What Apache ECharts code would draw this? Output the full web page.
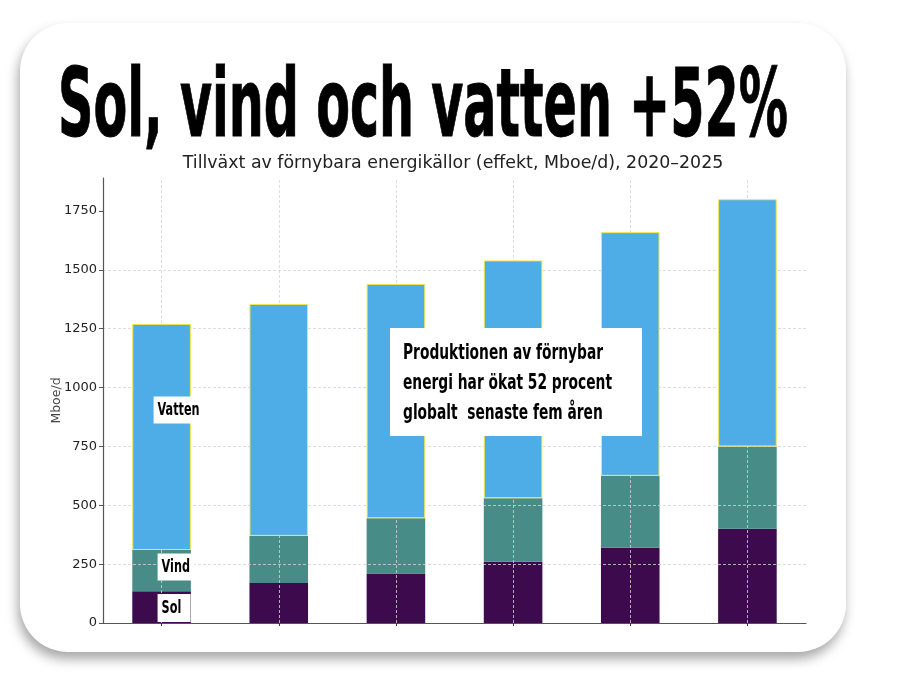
<!DOCTYPE html>
<html>
<head>
<meta charset="utf-8">
<script src="https://cdn.jsdelivr.net/npm/echarts@6/dist/echarts.min.js"></script>
<style>
  html, body { margin: 0; padding: 0; background: #ffffff; }
  #card { position: absolute; left: 20px; top: 23px; width: 826px; height: 629px;
          border-radius: 48px; background: #ffffff;
          box-shadow: -2px 7px 12px rgba(0,0,0,0.35); }
  #chart { position: absolute; left: 0; top: 0; width: 912px; height: 690px; }
</style>
</head>
<body>
<div id="card"></div>
<div id="chart"></div>
<script>
// ---- data ----
const categories = ['2020', '2021', '2022', '2023', '2024', '2025'];
const sol    = [135, 170, 210, 260, 320, 400];
const vind   = [175, 200, 235, 270, 305, 350];
const vatten = [960, 985, 995, 1010, 1035, 1050];
const yTicks = [0, 250, 500, 750, 1000, 1250, 1500, 1750];
const titleText = 'Sol, vind och vatten +52%';
const subtitleText = 'Tillväxt av förnybara energikällor (effekt, Mboe/d), 2020–2025';
const yAxisName = 'Mboe/d';
const noteLines = ['Produktionen av förnybar', 'energi har ökat 52 procent', 'globalt  senaste fem åren'];
const seriesNames = ['Sol', 'Vind', 'Vatten'];

const COND = "'Liberation Sans Narrow','DejaVu Sans Condensed','Liberation Sans',sans-serif";
const measureCtx = document.createElement('canvas').getContext('2d');
function measure(text, size) {
  measureCtx.font = 'bold ' + size + 'px ' + COND;
  return measureCtx.measureText(text).width;
}
function condText(text, x, y, size, scale, extra) {
  return Object.assign({
    type: 'text', x: x, y: y, scaleX: scale, scaleY: 1, z: 100,
    style: { text: text, font: 'bold ' + size + 'px ' + COND, fill: '#000',
             align: 'left', verticalAlign: 'middle' }
  }, extra || {});
}

const chart = echarts.init(document.getElementById('chart'), null, { renderer: 'canvas' });

const option = {
  backgroundColor: 'transparent',
  animation: false,
  grid: { left: 103, right: 106, top: 178, bottom: 67 },
  xAxis: {
    type: 'category', data: categories, boundaryGap: true,
    axisLine: { show: true, lineStyle: { color: '#555', width: 1.2 } },
    axisTick: { show: true, alignWithLabel: true, length: 3, lineStyle: { color: '#333' } },
    axisLabel: { show: false },
    splitLine: { show: false }
  },
  yAxis: {
    type: 'value', min: 0, max: 1890, interval: 250, z: 3,
    name: yAxisName, nameLocation: 'middle', nameGap: 40, nameRotate: 90, nameMoveOverlap: false,
    nameTextStyle: { fontFamily: 'DejaVu Sans', fontSize: 12.5, color: '#444' },
    axisLine: { show: true, lineStyle: { color: '#555', width: 1.2 } },
    axisTick: { show: true, length: 4, customValues: yTicks, lineStyle: { color: '#555' } },
    axisLabel: { fontFamily: 'DejaVu Sans', fontSize: 13, color: '#222', margin: 6,
                 customValues: yTicks, formatter: v => String(v) },
    splitLine: { show: true, showMaxLine: false, showMinLine: false,
                 lineStyle: { color: '#d4d4d4', type: [3, 2], width: 0.8 } }
  },
  series: [
    { name: seriesNames[0], type: 'bar', stack: 'total', data: sol, barWidth: '50%', z: 2,
      itemStyle: { color: '#3d0a4e' } },
    { name: seriesNames[1], type: 'bar', stack: 'total', data: vind, barWidth: '50%', z: 2,
      itemStyle: { color: '#478c87' } },
    { name: seriesNames[2], type: 'bar', stack: 'total', data: vatten, barWidth: '50%', z: 5,
      itemStyle: { color: '#4eace7', borderColor: '#f3e64a', borderWidth: 1 } },
    { name: 'grid', type: 'line', data: [], z: 3, silent: true,
      markLine: {
        silent: true, symbol: 'none', label: { show: false },
        lineStyle: { color: '#d4d4d4', type: [3, 2], width: 0.8 },
        data: categories.map(c => ({ xAxis: c }))
      } }
  ]
};
chart.setOption(option);

// ---- annotations (text as real text) ----
const titleSize = 95;
const titleScale = 730 / measure(titleText, titleSize);
const noteSize = 21;
const noteScale = 209 / measure(noteLines[1], noteSize);
const lblSize = 18;
const lblScale = 42 / measure('Vatten', lblSize);

// Bar-label anchors from data coordinates (first category)
const vattenPt = chart.convertToPixel({ gridIndex: 0 }, [categories[0], 905]);
const vindPt = chart.convertToPixel({ gridIndex: 0 }, [categories[0], 238]);
const solPt = chart.convertToPixel({ gridIndex: 0 }, [categories[0], 64]);

function boxLabel(text, pt, dx, w, h) {
  return [
    { type: 'rect', z: 99, shape: { x: pt[0] + dx, y: pt[1] - h / 2, width: w, height: h },
      style: { fill: '#fff' } },
    condText(text, pt[0] + dx + 4, pt[1], lblSize, lblScale)
  ];
}

const graphics = [
  // clip the bottom of the chart image like the reference
  { type: 'rect', z: 98, shape: { x: 80, y: 627, width: 720, height: 18 }, style: { fill: '#fff' } },
  condText(titleText, 58, 111, titleSize, titleScale,
           { style: { text: titleText, font: 'bold ' + titleSize + 'px ' + COND, fill: '#000',
                      stroke: '#000', lineWidth: 1, align: 'left', verticalAlign: 'middle' } }),
  { type: 'text', x: 453, y: 163, z: 100,
    style: { text: subtitleText, font: '17.4px DejaVu Sans', fill: '#222',
             align: 'center', verticalAlign: 'middle' } },
  { type: 'rect', z: 99, shape: { x: 390, y: 328, width: 252, height: 108 }, style: { fill: '#fff' } }
];
noteLines.forEach((t, i) => graphics.push(condText(t, 403, 354 + i * 30, noteSize, noteScale)));
graphics.push(...boxLabel(seriesNames[2], vattenPt, -8, 48, 27));
graphics.push(...boxLabel(seriesNames[1], vindPt, -4, 37, 27));
graphics.push(...boxLabel(seriesNames[0], solPt, -4, 33, 28));

chart.setOption({ graphic: graphics });
</script>
</body>
</html>
